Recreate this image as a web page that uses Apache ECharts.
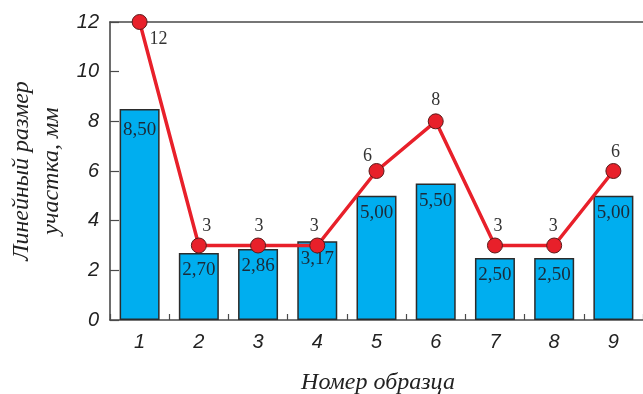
<!DOCTYPE html>
<html>
<head>
<meta charset="utf-8">
<script src="https://cdn.jsdelivr.net/npm/echarts@6/dist/echarts.min.js"></script>
<style>
  html, body { margin: 0; padding: 0; background: #fff; }
  #chart { width: 643px; height: 394px; }
</style>
</head>
<body>
<div id="chart"></div>
<script>
// Sample numbers along the x axis
const categories = ['1', '2', '3', '4', '5', '6', '7', '8', '9'];
// Linear size of the section, mm (bars)
const sizeValues = [8.5, 2.7, 2.86, 3.17, 5.0, 5.5, 2.5, 2.5, 5.0];
// Score for each sample (red line)
const scoreValues = [12, 3, 3, 3, 6, 8, 3, 3, 6];
// Y axis range
const yMin = 0, yMax = 12, yStep = 2;

const serif = '"Liberation Serif", "Times New Roman", serif';
const sans = '"Liberation Sans", Arial, sans-serif';

// per-point nudges for the line's value labels
const lineLabelTweaks = [
  { position: 'bottom', offset: [19, -2] },
  { offset: [8, 0] },
  { offset: [1, 0] },
  { offset: [-3, 0] },
  { offset: [-9, 4] },
  { offset: [0, -2] },
  { offset: [3, 0] },
  { offset: [-1, 0] },
  { offset: [2, 0] }
];

const fmtComma = v => v.toFixed(2).replace('.', ',');

const chart = echarts.init(document.getElementById('chart'), null, { renderer: 'canvas' });

chart.setOption({
  animation: false,
  backgroundColor: '#ffffff',
  grid: { left: 110, right: 0, top: 22, bottom: 74, containLabel: false },
  xAxis: [{
    type: 'category',
    data: categories,
    boundaryGap: true,
    axisLine: { show: true, lineStyle: { color: '#4a4a4a', width: 1.6 } },
    axisTick: { show: true, inside: true, length: 6, lineStyle: { color: '#4a4a4a', width: 1.2 } },
    axisLabel: { margin: 12, fontFamily: sans, fontStyle: 'italic', fontSize: 20, color: '#222' },
    splitLine: { show: false }
  }, {
    // top frame line
    type: 'category',
    data: categories,
    position: 'top',
    axisLine: { show: true, lineStyle: { color: '#4a4a4a', width: 1.6 } },
    axisTick: { show: false },
    axisLabel: { show: false }
  }],
  yAxis: {
    type: 'value',
    min: yMin, max: yMax, interval: yStep,
    axisLine: { show: true, lineStyle: { color: '#4a4a4a', width: 1.6 } },
    axisTick: { show: true, inside: true, length: 9, lineStyle: { color: '#4a4a4a', width: 1.2 } },
    axisLabel: { margin: 11, fontFamily: sans, fontStyle: 'italic', fontSize: 20, color: '#222' },
    splitLine: { show: false }
  },
  graphic: [
    {
      type: 'text', x: 22, y: 171, rotation: Math.PI / 2,
      style: { text: 'Линейный размер', font: 'italic 24px ' + serif, fill: '#222', textAlign: 'center', textVerticalAlign: 'middle' }
    },
    {
      type: 'text', x: 52, y: 171, rotation: Math.PI / 2,
      style: { text: 'участка, мм', font: 'italic 24px ' + serif, fill: '#222', textAlign: 'center', textVerticalAlign: 'middle' }
    },
    {
      type: 'text', x: 378, y: 383,
      style: { text: 'Номер образца', font: 'italic 24px ' + serif, fill: '#222', textAlign: 'center', textVerticalAlign: 'middle' }
    }
  ],
  series: [
    {
      type: 'bar',
      data: sizeValues.map((v, i) => i === 0 ? { value: v, label: { offset: [0, 4] } } : v),
      barWidth: 40,
      itemStyle: { color: '#00AEEF', borderColor: '#2b2b2b', borderWidth: 1.5 },
      label: {
        show: true,
        position: 'insideTop',
        distance: 8,
        fontFamily: serif,
        fontSize: 19,
        color: '#1b2a38',
        formatter: p => fmtComma(p.value)
      },
      z: 2
    },
    {
      type: 'line',
      data: scoreValues.map((v, i) => ({ value: v, label: lineLabelTweaks[i] })),
      symbol: 'circle',
      symbolSize: 15,
      lineStyle: { color: '#E8202A', width: 3.5 },
      itemStyle: { color: '#E8202A', borderColor: '#5a1a1a', borderWidth: 1 },
      label: {
        show: true,
        position: 'top',
        distance: 2,
        fontFamily: serif,
        fontSize: 18,
        color: '#333'
      },
      z: 3
    }
  ]
});
</script>
</body>
</html>
